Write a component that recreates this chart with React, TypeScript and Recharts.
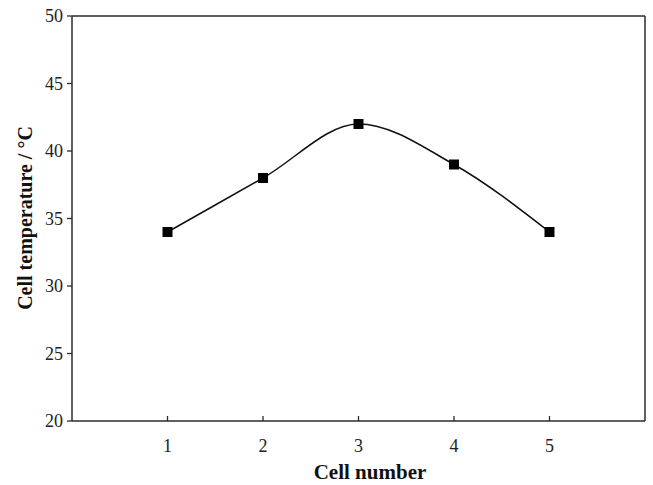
import React from "react";
import { LineChart, Line, XAxis, YAxis, ReferenceLine, Label } from "recharts";

const cellNumbers = [1, 2, 3, 4, 5];
const cellTemperatures = [34, 38, 42, 39, 34];
const yTicks = [20, 25, 30, 35, 40, 45, 50];
const xTicks = [1, 2, 3, 4, 5];

const data = cellNumbers.map((n, i) => ({ x: n, t: cellTemperatures[i] }));

const FONT = "'Liberation Serif', 'Times New Roman', serif";
const AXIS = "#2b2b2b";

const XTick = (props: any) => {
  const { x, y, payload } = props;
  return (
    <g>
      <line x1={x} x2={x} y1={y} y2={y - 5} stroke={AXIS} strokeWidth={1.3} />
      <text x={x} y={y + 31} textAnchor="middle" fontFamily={FONT} fontSize={18} fill="#222">
        {payload.value}
      </text>
    </g>
  );
};

const SquareDot = (props: any) => {
  const { cx, cy, index } = props;
  return <rect key={`d${index}`} x={cx - 5} y={cy - 5} width={10} height={10} fill="#000" />;
};

export default function App() {
  return (
    <div style={{ position: "absolute", left: 0, top: 0, background: "#fff" }}>
      <LineChart width={653} height={485} data={data} margin={{ top: 16, right: 8, bottom: 0, left: 0 }}>
        <XAxis
          type="number"
          dataKey="x"
          domain={[0, 6]}
          ticks={xTicks}
          height={64}
          tickLine={false}
          tickSize={0}
          tickMargin={0}
          tick={<XTick />}
          axisLine={{ stroke: AXIS, strokeWidth: 1.5 }}
        >
          <Label
            content={() => (
              <text x={370} y={479} textAnchor="middle" fontFamily={FONT} fontSize={21} fontWeight="bold" fill="#111">
                Cell number
              </text>
            )}
          />
        </XAxis>
        <YAxis
          type="number"
          domain={[20, 50]}
          ticks={yTicks}
          width={72}
          tickSize={5}
          tickMargin={4}
          tick={{ fontFamily: FONT, fontSize: 18, fill: "#222" }}
          tickLine={{ stroke: AXIS, strokeWidth: 1.3 }}
          axisLine={{ stroke: AXIS, strokeWidth: 1.5 }}
        >
          <Label
            content={() => (
              <text
                transform="translate(32,218) rotate(-90)"
                textAnchor="middle"
                fontFamily={FONT}
                fontSize={20}
                fontWeight="bold"
                fill="#111"
              >
                Cell temperature / °C
              </text>
            )}
          />
        </YAxis>
        <ReferenceLine y={50} stroke={AXIS} strokeWidth={1.5} />
        <ReferenceLine x={6} stroke={AXIS} strokeWidth={1.5} />
        <Line
          type="monotone"
          dataKey="t"
          stroke="#111"
          strokeWidth={1.5}
          dot={<SquareDot />}
          activeDot={false}
          isAnimationActive={false}
        />
      </LineChart>
    </div>
  );
}
